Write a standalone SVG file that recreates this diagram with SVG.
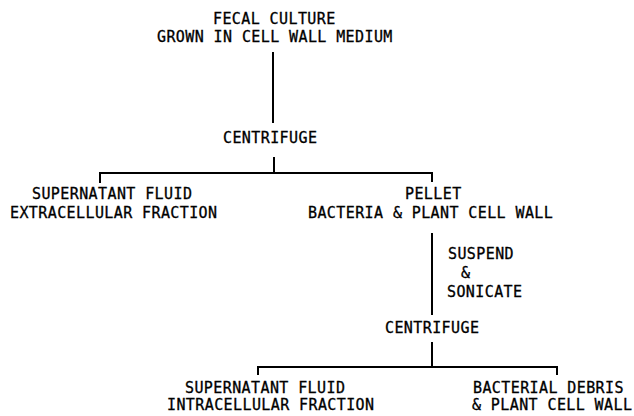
<svg xmlns="http://www.w3.org/2000/svg" width="634" height="416" viewBox="0 0 634 416">
<style>
text { font-family: "DejaVu Sans Mono", "Liberation Mono", monospace; font-size: 15px; letter-spacing: 0.4px; fill: #000; stroke: #000; stroke-width: 0.3; }
.ln { stroke: #000; stroke-width: 2; fill: none; }
</style>
<rect width="634" height="416" fill="#fff"/>
<g id="connectors">
<path class="ln" d="M273 52 V123"/>
<path class="ln" d="M274 157 V173"/>
<path class="ln" d="M100 183 V173 H432 V182"/>
<path class="ln" d="M432 233 V315"/>
<path class="ln" d="M432 342 V367"/>
<path class="ln" d="M258 375 V367 H557 V375"/>
</g>
<g id="n_fecal">
<text x="213" y="24">FECAL CULTURE</text>
<text x="157" y="42">GROWN IN CELL WALL MEDIUM</text>
</g>
<g id="n_centrifuge1">
<text x="223" y="143">CENTRIFUGE</text>
</g>
<g id="n_supernatant1">
<text x="32" y="199">SUPERNATANT FLUID</text>
<text x="10" y="218">EXTRACELLULAR FRACTION</text>
</g>
<g id="n_pellet">
<text x="405" y="199">PELLET</text>
<text x="308" y="218">BACTERIA &amp; PLANT CELL WALL</text>
</g>
<g id="l_suspend">
<text x="448" y="259">SUSPEND</text>
<text x="461" y="278">&amp;</text>
<text x="447" y="297">SONICATE</text>
</g>
<g id="n_centrifuge2">
<text x="385" y="333">CENTRIFUGE</text>
</g>
<g id="n_supernatant2">
<text x="185" y="393">SUPERNATANT FLUID</text>
<text x="167" y="410">INTRACELLULAR FRACTION</text>
</g>
<g id="n_debris">
<text x="473" y="393">BACTERIAL DEBRIS</text>
<text x="472" y="410">&amp; PLANT CELL WALL</text>
</g>
</svg>
